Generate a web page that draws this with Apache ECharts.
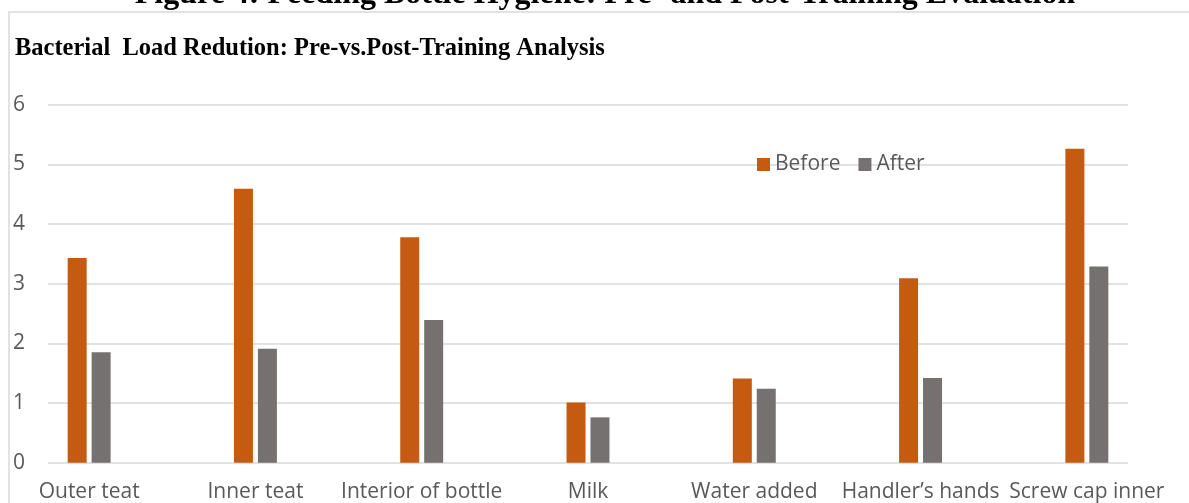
<!DOCTYPE html>
<html>
<head>
<meta charset="utf-8">
<script src="https://cdn.jsdelivr.net/npm/echarts@6/dist/echarts.min.js"></script>
<style>
  html, body { margin: 0; padding: 0; background: #ffffff; overflow: hidden; }
  #chart { width: 1189px; height: 503px; }
</style>
</head>
<body>
<div id="chart"></div>
<script>
// Sampling sites and bacterial load before / after hygiene training
const categories = ['Outer teat', 'Inner teat', 'Interior of bottle', 'Milk', 'Water added', 'Handler\u2019s hands', 'Screw cap inner'];
const beforeValues = [3.43, 4.59, 3.78, 1.01, 1.41, 3.09, 5.26];
const afterValues = [1.85, 1.91, 2.39, 0.76, 1.24, 1.42, 3.29];
const seriesNames = ['Before', 'After'];
const yTicks = { min: 0, max: 6, interval: 1 };
const figureTitle = 'Figure 4: Feeding Bottle Hygiene: Pre- and Post-Training Evaluation';
const chartTitle = 'Bacterial  Load Redution: Pre-vs.Post-Training Analysis';

const labelFont = '"Open Sans", "Liberation Sans", sans-serif';
const titleFont = '"Liberation Serif", "Times New Roman", serif';

const chart = echarts.init(document.getElementById('chart'), null, { renderer: 'canvas' });

chart.setOption({
  animation: false,
  backgroundColor: '#ffffff',
  graphic: [
    // figure caption above the chart frame
    {
      type: 'text', x: 605, y: -5, silent: true,
      style: {
        text: figureTitle, fill: '#000000',
        font: 'bold 32px ' + titleFont,
        textAlign: 'center', textVerticalAlign: 'middle'
      }
    },
    // chart frame
    {
      type: 'polyline', silent: true,
      shape: { points: [[9, 503], [9, 12], [1189, 12]] },
      style: { stroke: '#d9d9d9', lineWidth: 1.5, fill: null }
    },
    // chart title
    {
      type: 'text', x: 15, y: 49, silent: true,
      style: {
        text: chartTitle, fill: '#000000',
        font: 'bold 24.5px ' + titleFont,
        textAlign: 'left', textVerticalAlign: 'middle'
      }
    }
  ],
  legend: {
    data: seriesNames,
    left: 752,
    top: 149,
    itemWidth: 13,
    itemHeight: 13,
    itemGap: 18,
    icon: 'rect',
    textStyle: { fontFamily: labelFont, fontSize: 21, color: '#595959' }
  },
  grid: [
    // value-axis grid: ticks and horizontal gridlines
    { left: 48, right: 61, top: 104.7, bottom: 40.3 },
    // category grid holding the bars
    { left: 6, right: 19, top: 104.7, bottom: 40.3 }
  ],
  xAxis: [
    {
      gridIndex: 0, type: 'category', data: categories, show: false
    },
    {
      gridIndex: 1, type: 'category', data: categories,
      axisLine: { show: false }, axisTick: { show: false },
      axisLabel: { fontFamily: labelFont, fontSize: 21, color: '#595959', margin: 19, interval: 0 }
    }
  ],
  yAxis: [
    {
      gridIndex: 0, type: 'value', min: yTicks.min, max: yTicks.max, interval: yTicks.interval,
      axisLine: { show: false }, axisTick: { show: false },
      axisLabel: { fontFamily: labelFont, fontSize: 21, color: '#595959', margin: 23 },
      splitLine: { lineStyle: { color: '#d9d9d9', width: 1.5 } }
    },
    {
      gridIndex: 1, type: 'value', min: yTicks.min, max: yTicks.max, interval: yTicks.interval,
      show: false, splitLine: { show: false }
    }
  ],
  series: [
    {
      name: seriesNames[0], type: 'bar', xAxisIndex: 1, yAxisIndex: 1,
      data: beforeValues, barWidth: 19, barGap: '26%',
      itemStyle: { color: '#C55A11' }
    },
    {
      name: seriesNames[1], type: 'bar', xAxisIndex: 1, yAxisIndex: 1,
      data: afterValues, barWidth: 19, barGap: '26%',
      itemStyle: { color: '#767171' }
    }
  ]
});
</script>
</body>
</html>
